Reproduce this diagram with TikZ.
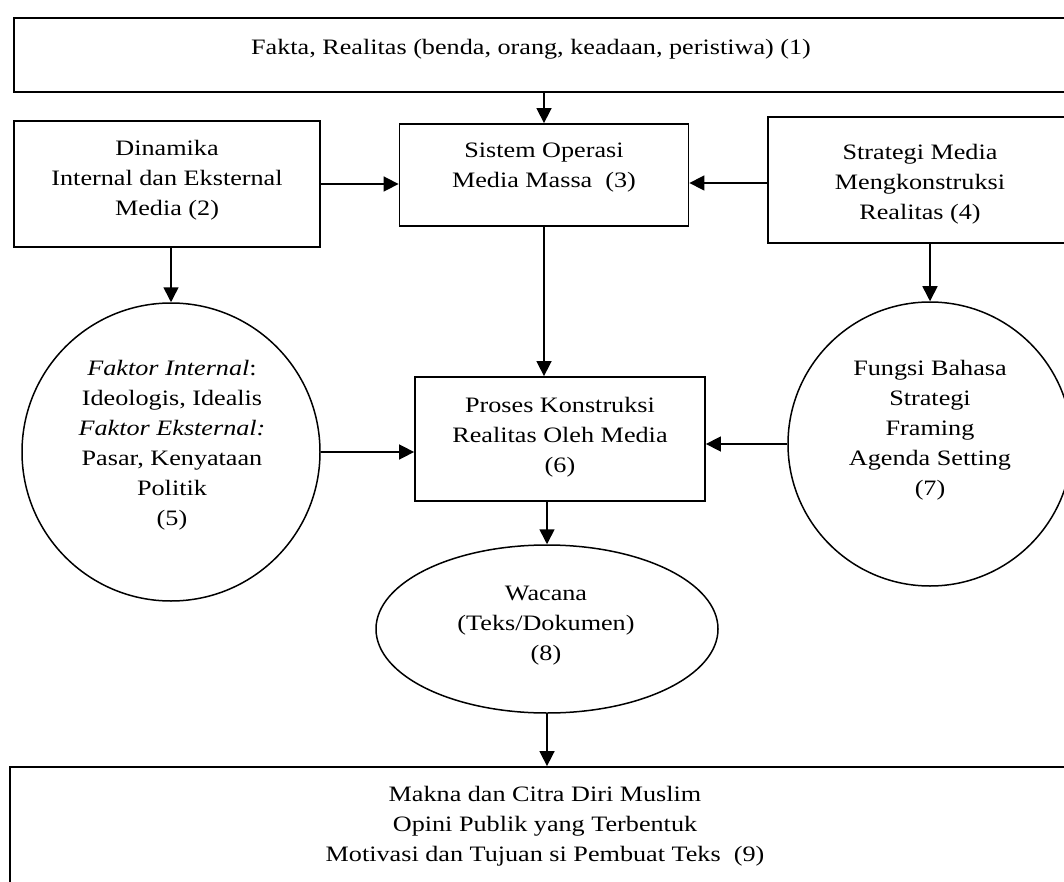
\documentclass[tikz,border=0pt]{standalone}
\usepackage{fontspec}
\setmainfont{Liberation Serif}[FakeStretch=1.19]
\usetikzlibrary{shapes.geometric,arrows.meta}
\tikzset{
  boxshape/.style={draw, line width=1.8pt, inner sep=0pt},
  roundshape/.style={draw, line width=1.5pt, inner sep=0pt},
  txt/.style={align=center, inner sep=0pt, font=\fontsize{22}{30}\selectfont},
  conn/.style={line width=1.6pt, -{Triangle[length=15pt,width=15pt]}}
}
\begin{document}
\begin{tikzpicture}[x=1pt,y=-1pt]
\useasboundingbox (0,0) rectangle (1064,882);
\clip (0,0) rectangle (1064,882);
% shapes
\node[boxshape, minimum width=1066pt, minimum height=74pt] (b1) at (547,55) {};
\node[boxshape, minimum width=306pt, minimum height=126pt] (b2) at (167,184) {};
\node[boxshape, minimum width=289pt, minimum height=102pt] (b3) at (544,175) {};
\node[boxshape, minimum width=307pt, minimum height=126pt] (b4) at (921.5,180) {};
\node[roundshape, circle, minimum size=298pt] (c5) at (171,452) {};
\node[boxshape, minimum width=290pt, minimum height=124pt] (b6) at (560,439) {};
\node[roundshape, circle, minimum size=284pt] (c7) at (930,444) {};
\node[roundshape, ellipse, minimum width=342pt, minimum height=168pt] (e8) at (547,629) {};
\node[boxshape, minimum width=1070pt, minimum height=140pt] (b9) at (545,837) {};
% texts
\node[txt] (t1) at (531,49) {Fakta, Realitas (benda, orang, keadaan, peristiwa) (1)};
\node[txt] (t2) at (167,180) {Dinamika\\Internal dan Eksternal\\Media (2)};
\node[txt] (t3) at (544,168) {Sistem Operasi\\Media Massa~ (3)};
\node[txt] (t4) at (920,184) {Strategi Media\\Mengkonstruksi\\Realitas (4)};
\node[txt] (t5) at (172,445) {\textit{Faktor Internal}:\\Ideologis, Idealis\\\textit{Faktor Eksternal:}\\Pasar, Kenyataan\\Politik\\(5)};
\node[txt] (t6) at (560,437) {Proses Konstruksi\\Realitas Oleh Media\\(6)};
\node[txt] (t7) at (930,430) {Fungsi Bahasa\\Strategi\\Framing\\Agenda Setting\\(7)};
\node[txt] (t8) at (546,626) {Wacana\\(Teks/Dokumen)\\(8)};
\node[txt] (t9) at (545,826) {Makna dan Citra Diri Muslim\\Opini Publik yang Terbentuk\\Motivasi dan Tujuan si Pembuat Teks~ (9)};
% connectors
\draw[conn] (b3.north |- b1.south) -- (b3.north);
\draw[conn] (b2.east) -- (b2.east -| b3.west);
\draw[conn] (b4.west |- 0,183) -- (b3.east |- 0,183);
\draw[conn] (c5.north |- b2.south) -- (c5.north);
\draw[conn] (c7.north |- b4.south) -- (c7.north);
\draw[conn] (b3.south) -- (b3.south |- b6.north);
\draw[conn] (c5.east) -- (c5.east -| b6.west);
\draw[conn] (c7.west) -- (c7.west -| b6.east);
\draw[conn] (e8.north |- b6.south) -- (e8.north);
\draw[conn] (e8.south) -- (e8.south |- b9.north);
\end{tikzpicture}
\end{document}
